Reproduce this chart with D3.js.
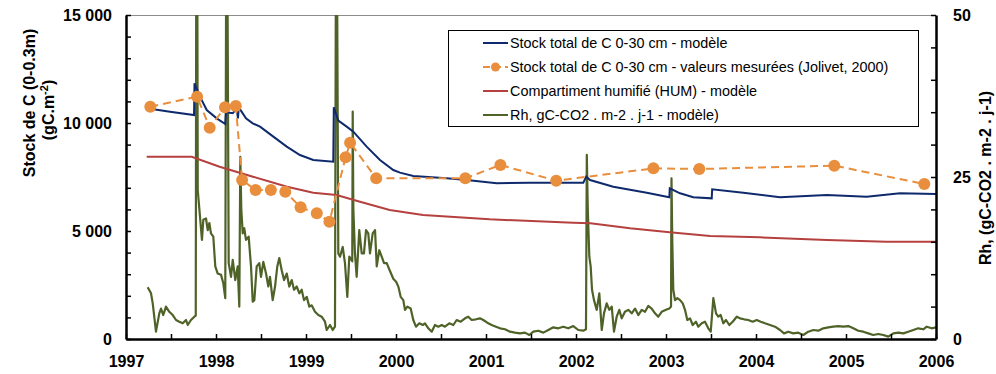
<!DOCTYPE html>
<meta charset="utf-8">
<style>
body { margin: 0; background: #fff; }
svg text { font-family: Arial, "Liberation Sans", sans-serif; }
.axis text { font-size: 16px; font-weight: bold; fill: #000; }
.axis path { stroke: #000; stroke-width: 2.5px; }
.axis line { stroke: #000; stroke-width: 1.5px; }
.legend text { font-size: 14.4px; fill: #000; }
</style>
<body>
<script src="https://cdn.jsdelivr.net/npm/d3@7"></script>
<script>

// x domain and tick labels
var yearTicks = d3.range(1997, 2006.01, 0.5);
var stockTicks = d3.range(0, 15001, 1000);
var rhTicks = d3.range(0, 51, 5);

// stock total model (gC.m-2)
var stockModel = [
  [1997.230,10680],[1997.489,10520],[1997.756,10370],[1997.761,11838],[1997.822,11218],
  [1997.897,10600],[1998.008,10216],[1998.103,9954],[1998.111,10500],[1998.186,10450],
  [1998.230,10680],[1998.244,10216],[1998.253,10725],[1998.333,10216],[1998.408,9985],
  [1998.489,9830],[1998.637,9367],[1998.786,8904],[1998.933,8519],[1999.081,8287],
  [1999.303,8210],[1999.309,10725],[1999.359,10108],[1999.452,9830],[1999.526,9599],
  [1999.674,8904],[1999.822,8287],[1999.970,7824],[2000.044,7701],[2000.192,7546],
  [2000.563,7438],[2000.786,7361],[2001.119,7207],[2001.489,7237],[2002.081,7237],
  [2002.114,7515],[2002.156,7361],[2002.414,7052],[2002.786,6775],[2003.037,6560],
  [2003.042,6975],[2003.156,6744],[2003.303,6560],[2003.508,6512],[2003.513,6929],
  [2003.859,6775],[2004.267,6560],[2004.786,6667],[2005.230,6590],[2005.600,6744],
  [2006.000,6713]
];

// measured values (Jolivet, 2000)
var stockMeasured = [
  [1997.27,10755],[1997.79,11218],[1997.93,9782],[1998.10,10725],[1998.22,10787],
  [1998.29,7361],[1998.44,6898],[1998.61,6898],[1998.77,6821],[1998.94,6096],
  [1999.12,5818],[1999.26,5432],[1999.44,8410],[1999.49,9090],[1999.78,7438],
  [2000.77,7438],[2001.16,8056],[2001.78,7330],[2002.86,7901],[2003.37,7870],
  [2004.87,8025],[2005.87,7176]
];

// humified pool (HUM) model
var humModel = [
  [1997.23,8440],[1997.73,8440],[1998.04,7978],[1998.41,7515],[1998.79,7052],
  [1999.08,6775],[1999.34,6667],[1999.60,6358],[1999.93,5972],[2000.30,5740],
  [2001.04,5540],[2001.97,5386],[2002.16,5355],[2002.60,5124],[2003.04,4938],
  [2003.49,4768],[2004.04,4707],[2004.79,4583],[2005.45,4506],[2006.00,4506]
];

// Rh model, gC-CO2 . m-2 . j-1 (right axis)
var rhModel = [
  [1997.241,8.0],[1997.278,7.05],[1997.297,5.5],[1997.333,1.13],[1997.370,3.96],[1997.389,4.7],
  [1997.414,3.7],[1997.444,5.0],[1997.481,4.2],[1997.519,3.7],[1997.556,2.93],[1997.592,2.67],
  [1997.630,2.42],[1997.667,2.93],[1997.686,2.16],[1997.722,2.93],[1997.759,3.44],[1997.775,3.6],
  [1997.781,62],[1997.792,60],[1997.797,23.0],[1997.822,18.9],[1997.844,15.3],[1997.859,18.4],
  [1997.889,18.6],[1997.908,16.8],[1997.926,17.9],[1997.944,16.3],[1997.970,15.8],[1997.992,11.2],
  [1998.019,10.1],[1998.056,9.9],[1998.081,8.6],[1998.103,6.3],[1998.114,62],[1998.126,60],
  [1998.141,11.7],[1998.167,9.6],[1998.186,12.2],[1998.214,9.1],[1998.241,11.2],[1998.259,5.0],
  [1998.270,28.1],[1998.281,20],[1998.297,16.3],[1998.314,17.1],[1998.333,15.3],[1998.363,15.8],
  [1998.389,11.2],[1998.408,5.76],[1998.426,6.0],[1998.452,11.2],[1998.481,11.7],[1998.500,9.6],
  [1998.526,11.9],[1998.556,10.1],[1998.581,8.1],[1998.600,9.6],[1998.630,6.0],[1998.656,8.1],
  [1998.681,11.2],[1998.703,12.5],[1998.730,10.6],[1998.756,9.1],[1998.786,10.1],[1998.814,8.1],
  [1998.841,9.1],[1998.867,7.6],[1998.897,8.1],[1998.926,7.05],[1998.952,7.6],[1998.978,6.0],
  [1999.008,6.5],[1999.037,5.0],[1999.063,5.2],[1999.100,4.2],[1999.137,3.7],[1999.174,3.44],
  [1999.211,2.67],[1999.230,1.39],[1999.267,2.16],[1999.297,1.39],[1999.322,1.9],[1999.333,62],
  [1999.344,60],[1999.359,13.2],[1999.378,12.7],[1999.408,14.2],[1999.433,11.7],[1999.459,6.5],
  [1999.481,12.7],[1999.514,12],[1999.519,35.1],[1999.526,20],[1999.544,13.2],[1999.563,9.6],
  [1999.592,16.8],[1999.619,13.2],[1999.644,13.2],[1999.667,16.8],[1999.692,16.3],[1999.711,13.2],
  [1999.741,16.3],[1999.767,16.8],[1999.786,11.2],[1999.814,13.7],[1999.841,12.7],[1999.867,11.7],
  [1999.897,11.7],[1999.933,10.5],[1999.970,9.3],[2000.003,8.8],[2000.028,8.0],[2000.052,6.5],
  [2000.081,6.0],[2000.100,4.5],[2000.126,5.0],[2000.163,4.7],[2000.192,2.93],[2000.222,1.9],
  [2000.259,2.42],[2000.297,2.16],[2000.322,2.42],[2000.359,1.65],[2000.397,1.13],[2000.433,2.16],
  [2000.470,1.9],[2000.508,2.16],[2000.544,1.9],[2000.592,2.42],[2000.637,2.16],[2000.674,2.93],
  [2000.719,2.67],[2000.767,3.19],[2000.803,3.44],[2000.841,2.93],[2000.889,3.04],[2000.933,3.19],
  [2000.970,2.93],[2001.014,2.52],[2001.063,2.16],[2001.111,1.9],[2001.156,1.65],[2001.211,1.5],
  [2001.267,1.13],[2001.322,0.98],[2001.378,0.87],[2001.433,0.98],[2001.481,0.62],[2001.526,1.13],
  [2001.581,1.28],[2001.637,0.98],[2001.692,1.39],[2001.748,1.8],[2001.803,1.65],[2001.859,1.9],
  [2001.914,1.65],[2001.970,2.0],[2002.026,1.39],[2002.081,1.28],[2002.111,1.5],[2002.120,28.4],
  [2002.131,20],[2002.148,12.7],[2002.163,11.2],[2002.178,7.6],[2002.200,6.0],[2002.230,4.5],
  [2002.259,7.05],[2002.286,1.39],[2002.311,3.96],[2002.341,5.5],[2002.370,4.5],[2002.397,5.0],
  [2002.422,1.13],[2002.452,3.44],[2002.481,4.5],[2002.508,3.19],[2002.544,4.2],[2002.581,4.5],
  [2002.619,3.96],[2002.656,4.7],[2002.692,3.7],[2002.730,4.5],[2002.767,4.2],[2002.803,5.1],
  [2002.841,4.7],[2002.878,3.96],[2002.914,3.44],[2002.952,4.2],[2003.000,4.5],[2003.037,4.7],
  [2003.056,5.0],[2003.061,24.8],[2003.070,15],[2003.081,7.6],[2003.100,6.0],[2003.126,6.3],
  [2003.156,6.0],[2003.186,5.5],[2003.211,4.5],[2003.237,2.93],[2003.267,3.19],[2003.297,2.16],
  [2003.333,2.67],[2003.359,1.9],[2003.397,2.42],[2003.433,2.67],[2003.470,1.65],[2003.497,1.13],
  [2003.526,6.3],[2003.556,3.96],[2003.581,3.44],[2003.608,3.7],[2003.637,2.42],[2003.667,2.93],
  [2003.703,2.16],[2003.741,2.67],[2003.786,3.44],[2003.822,3.19],[2003.867,3.04],[2003.914,2.93],
  [2003.963,2.67],[2004.008,2.93],[2004.052,2.67],[2004.100,2.42],[2004.156,2.16],[2004.211,1.9],
  [2004.267,1.39],[2004.311,0.87],[2004.359,1.13],[2004.414,0.87],[2004.470,0.98],[2004.526,0.62],
  [2004.581,1.13],[2004.637,1.39],[2004.692,1.28],[2004.748,1.65],[2004.803,1.8],[2004.859,1.9],
  [2004.914,2.0],[2004.970,1.9],[2005.026,2.0],[2005.081,1.65],[2005.137,1.28],[2005.192,1.13],
  [2005.248,0.87],[2005.303,0.62],[2005.359,0.77],[2005.414,0.62],[2005.470,0.36],[2005.526,0.87],
  [2005.581,0.98],[2005.637,0.87],[2005.692,1.13],[2005.748,1.39],[2005.803,1.65],[2005.859,1.5],
  [2005.897,1.9],[2005.952,1.65],[2006.000,1.8]
];

var legendLabels = [
  "Stock total de C 0-30 cm - modèle",
  "Stock total de C 0-30 cm - valeurs mesurées (Jolivet, 2000)",
  "Compartiment humifié (HUM) - modèle",
  "Rh, gC-CO2 . m-2 . j-1 - modèle)"
];

var colors = { stock: "#0f2a6c", meas: "#e88e3c", hum: "#b5413f", rh: "#4f6228" };

var W = 996, H = 374;
var plot = { left: 126, right: 936, top: 15, bottom: 339 };

var x = d3.scaleLinear().domain([1997, 2006]).range([plot.left, plot.right]);
var yL = d3.scaleLinear().domain([0, 15000]).range([plot.bottom, plot.top]);
var yR = d3.scaleLinear().domain([0, 50]).range([plot.bottom, plot.top]);

var svg = d3.select("body").append("svg")
    .attr("width", W)
    .attr("height", H);

svg.append("defs").append("clipPath").attr("id", "clip")
  .append("rect")
    .attr("x", plot.left).attr("y", plot.top)
    .attr("width", plot.right - plot.left).attr("height", plot.bottom - plot.top);

// thin top frame
svg.append("line")
    .attr("x1", plot.left).attr("x2", plot.right)
    .attr("y1", plot.top + 0.5).attr("y2", plot.top + 0.5)
    .attr("stroke", "#8c8c8c").attr("stroke-width", 1);

var lineL = d3.line().x(function(d) { return x(d[0]); }).y(function(d) { return yL(d[1]); });
var lineR = d3.line().x(function(d) { return x(d[0]); }).y(function(d) { return yR(d[1]); });

var g = svg.append("g").attr("clip-path", "url(#clip)");

g.append("path").datum(rhModel)
    .attr("d", lineR)
    .attr("fill", "none")
    .attr("stroke", colors.rh)
    .attr("stroke-width", 2.2)
    .attr("stroke-linejoin", "round");

g.append("path").datum(humModel)
    .attr("d", lineL)
    .attr("fill", "none")
    .attr("stroke", colors.hum)
    .attr("stroke-width", 2);

g.append("path").datum(stockModel)
    .attr("d", lineL)
    .attr("fill", "none")
    .attr("stroke", colors.stock)
    .attr("stroke-width", 2);

g.append("path").datum(stockMeasured)
    .attr("d", lineL)
    .attr("fill", "none")
    .attr("stroke", colors.meas)
    .attr("stroke-width", 2)
    .attr("stroke-dasharray", "8,5");

g.selectAll(".dot")
    .data(stockMeasured)
  .enter().append("circle")
    .attr("class", "dot")
    .attr("cx", function(d) { return x(d[0]); })
    .attr("cy", function(d) { return yL(d[1]); })
    .attr("r", 6)
    .attr("fill", colors.meas);

// axes
var fmt = function(d) { return d3.format(",")(d).replace(",", " "); };

svg.append("g")
    .attr("class", "axis")
    .attr("transform", "translate(" + plot.left + ",0)")
    .call(d3.axisLeft(yL).tickValues(stockTicks).tickSizeInner(-5).tickSizeOuter(0).tickPadding(14)
      .tickFormat(function(d) { return d % 5000 === 0 ? fmt(d) : ""; }));

svg.append("g")
    .attr("class", "axis")
    .attr("transform", "translate(" + plot.right + ",0)")
    .call(d3.axisRight(yR).tickValues(rhTicks).tickSizeInner(-5).tickSizeOuter(0).tickPadding(17)
      .tickFormat(function(d) { return d % 25 === 0 ? d : ""; }));

svg.append("g")
    .attr("class", "axis")
    .attr("transform", "translate(0," + plot.bottom + ")")
    .call(d3.axisBottom(x).tickValues(yearTicks).tickSizeInner(-5).tickSizeOuter(0).tickPadding(17)
      .tickFormat(function(d) { return d % 1 === 0 ? d : ""; }));

// axis titles
svg.append("text")
    .attr("transform", "translate(35,103) rotate(-90)")
    .attr("text-anchor", "middle")
    .style("font-size", "16px").style("font-weight", "bold")
    .text("Stock de C (0-0.3m)");

var t2 = svg.append("text")
    .attr("transform", "translate(54,110) rotate(-90)")
    .attr("text-anchor", "middle")
    .style("font-size", "16px").style("font-weight", "bold");
t2.append("tspan").text("(gC.m");
t2.append("tspan").attr("dy", -6).style("font-size", "11px").text("-2");
t2.append("tspan").attr("dy", 6).text(")");

svg.append("text")
    .attr("transform", "translate(991,178) rotate(-90)")
    .attr("text-anchor", "middle")
    .style("font-size", "16px").style("font-weight", "bold")
    .text("Rh, (gC-CO2 . m-2 . j-1)");

// legend
var leg = svg.append("g").attr("class", "legend");
leg.append("rect")
    .attr("x", 448.5).attr("y", 30.5)
    .attr("width", 470).attr("height", 96)
    .attr("fill", "#fff").attr("stroke", "#000").attr("stroke-width", 1);

var rowY = [43, 67, 91, 115];
var legStyle = [
  { c: colors.stock, dash: null, dot: false },
  { c: colors.meas, dash: "7,4", dot: true },
  { c: colors.hum, dash: null, dot: false },
  { c: colors.rh, dash: null, dot: false }
];

legendLabels.forEach(function(lbl, i) {
  var s = legStyle[i];
  var ln = leg.append("line")
      .attr("x1", 483).attr("x2", 508)
      .attr("y1", rowY[i]).attr("y2", rowY[i])
      .attr("stroke", s.c).attr("stroke-width", 2);
  if (s.dash) ln.attr("stroke-dasharray", s.dash);
  if (s.dot) {
    leg.append("circle").attr("cx", 495.5).attr("cy", rowY[i]).attr("r", 4.5).attr("fill", s.c);
  }
  leg.append("text")
      .attr("x", 510).attr("y", rowY[i] + 5)
      .text(lbl);
});

</script>
</body>
